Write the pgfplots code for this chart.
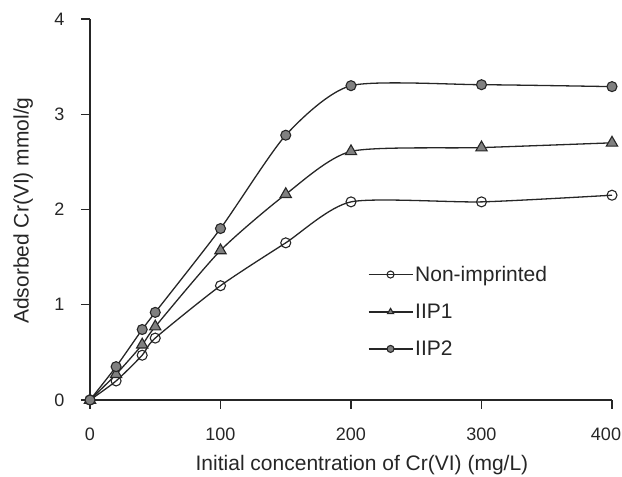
\documentclass[border=0pt]{standalone}
\usepackage{pgfplots}
\pgfplotsset{compat=1.18}
\usepackage{fontspec}
\setmainfont{Liberation Sans}
\definecolor{mgray}{RGB}{128,128,128}
\begin{document}
\begin{tikzpicture}[x=1pt,y=1pt]
\useasboundingbox (-90pt,-77pt) rectangle (532pt,400pt);
\begin{axis}[
  at={(0pt,0pt)}, anchor=origin,
  scale only axis, width=522pt, height=381pt,
  xmin=0, xmax=400, ymin=0, ymax=4,
  axis lines=left, axis line style={-, line width=1.3pt, black!85},
  xtick={0,100,200,300,400}, ytick={0,1,2,3,4},
  xticklabels={0,100,200,300,\makebox[0pt][c]{\hspace*{-12pt}400}},
  tick align=outside, major tick length=9pt,
  tick style={line width=1.3pt, black!85},
  /pgf/number format/assume math mode=true,
  tick label style={font=\fontsize{18}{18}\selectfont, text=black!85},
  xticklabel style={yshift=-15pt},
  yticklabel style={xshift=-13pt},
  xlabel={Initial concentration of Cr(VI) (mg/L)},
  ylabel={Adsorbed Cr(VI) mmol/g},
  label style={font=\fontsize{21}{21}\selectfont, text=black!85},
  xlabel style={at={(axis description cs:0.521,-0.172)}, anchor=center},
  ylabel style={at={(axis description cs:-0.128,0.497)}, anchor=center},
  clip=false,
  legend style={draw=none, fill=none, at={(axis description cs:0.532,0.357)}, anchor=north west,
    font=\fontsize{21}{21}\selectfont, text=black!85, row sep=17pt, inner sep=0pt},
  legend cell align=left,
  legend image code/.code={\draw[#1, mark size=3.5pt, mark repeat=2, mark phase=2] plot coordinates {(0pt,0pt) (22pt,0pt) (44pt,0pt)};},
]
\addplot[smooth, tension=0.4, line width=1.3pt, black!85, mark=o, mark size=5pt,
  mark options={fill=white, line width=1.1pt, solid}]
  coordinates {(0,0) (20,0.20) (40,0.47) (50,0.65) (100,1.20) (150,1.65) (200,2.08) (300,2.08) (400,2.15)};
\addlegendentry{Non-imprinted}
\addplot[smooth, tension=0.4, line width=1.3pt, black!85, mark=triangle*, mark size=6.5pt,
  mark options={fill=mgray, line width=1.1pt, solid}]
  coordinates {(0,0) (20,0.27) (40,0.58) (50,0.77) (100,1.57) (150,2.16) (200,2.61) (300,2.65) (400,2.70)};
\addlegendentry{IIP1}
\addplot[smooth, tension=0.4, line width=1.3pt, black!85, mark=*, mark size=5pt,
  mark options={fill=mgray, line width=1.1pt, solid}]
  coordinates {(0,0) (20,0.35) (40,0.74) (50,0.92) (100,1.80) (150,2.78) (200,3.30) (300,3.31) (400,3.29)};
\addlegendentry{IIP2}
\end{axis}
\end{tikzpicture}
\end{document}
